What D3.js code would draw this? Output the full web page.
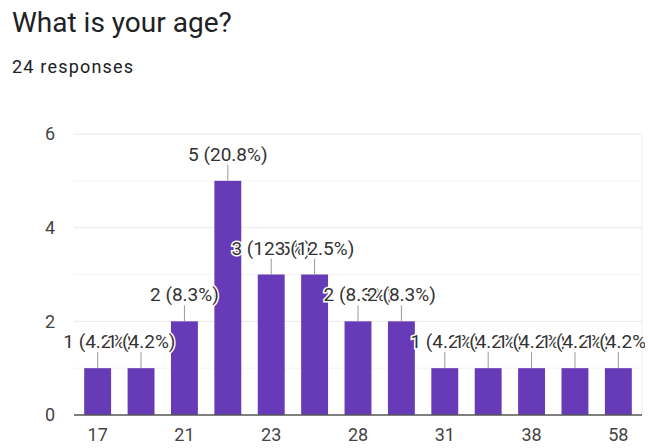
<!DOCTYPE html>
<html>
  <head>
    <title>What is your age?</title>
    <script src="https://cdnjs.cloudflare.com/ajax/libs/d3/7.8.5/d3.min.js"></script>
  <style>
body
{
  margin: 0;
  background: #fff;
  font-family: Roboto, "Noto Sans", sans-serif;
}

text.title
{
  font-size: 28px;
  fill: #202124;
}

text.sub
{
  font-size: 18px;
  letter-spacing: 1.2px;
  fill: #202124;
}

.axis text
{
  font-size: 18px;
  fill: #444;
  font-family: Roboto, sans-serif;
}

text.note
{
  font-size: 19px;
  fill: #333;
  stroke: #fff;
  stroke-width: 3px;
  paint-order: stroke;
}
  </style>
  </head>
  <body>
    <div id="chart"></div>
<script>
var ages = ["17", "20", "21", "22", "23", "25", "28", "30", "31", "35", "38", "40", "58"];
var counts = [1, 1, 2, 5, 3, 3, 2, 2, 1, 1, 1, 1, 1];
var yTicks = [0, 2, 4, 6];
var total = d3.sum(counts);

var width = 648,
  height = 448,
  plotLeft = 74,
  plotRight = 642,
  plotTop = 134,
  plotBottom = 415;

var svg = d3.select("#chart").append("svg")
  .attr("width", width)
  .attr("height", height);

svg.append("defs").append("clipPath")
  .attr("id", "noteclip")
  .append("rect")
  .attr("x", 0).attr("y", 0)
  .attr("width", 645).attr("height", height);

svg.append("text").attr("class", "title")
  .attr("x", 12).attr("y", 32)
  .text("What is your age?");
svg.append("text").attr("class", "sub")
  .attr("x", 12).attr("y", 73)
  .text(total + " responses");

var x = d3.scaleBand()
  .domain(ages)
  .range([plotLeft, plotRight])
  .paddingInner(0.38)
  .paddingOuter(0.235);

var y = d3.scaleLinear()
  .domain([0, 6])
  .range([plotBottom, plotTop]);

// light grid, one line per unit
svg.append("g")
  .selectAll("line")
  .data(d3.range(1, 7))
  .enter().append("line")
  .attr("x1", plotLeft).attr("x2", plotRight)
  .attr("y1", function(d) { return y(d); })
  .attr("y2", function(d) { return y(d); })
  .style("stroke", function(d) { return d % 2 ? "#f3f3f3" : "#e8e8e8"; })
  .style("stroke-width", 1);

svg.append("line")
  .attr("x1", plotRight).attr("x2", plotRight)
  .attr("y1", plotTop).attr("y2", plotBottom)
  .style("stroke", "#eeeeee");

var yAxis = svg.append("g")
  .attr("class", "axis")
  .attr("transform", "translate(" + plotLeft + ",0)")
  .call(d3.axisLeft(y).tickValues(yTicks).tickFormat(d3.format("d"))
    .tickSize(0).tickPadding(19));
yAxis.select(".domain").remove();

svg.append("g")
  .selectAll("rect")
  .data(counts)
  .enter().append("rect")
  .attr("x", function(d, i) { return x(ages[i]); })
  .attr("width", x.bandwidth())
  .attr("y", function(d) { return y(d); })
  .attr("height", function(d) { return y(0) - y(d); })
  .style("fill", "#673ab7");

var xAxis = svg.append("g")
  .attr("class", "axis")
  .attr("transform", "translate(0," + plotBottom + ")")
  .call(d3.axisBottom(x)
    .tickValues(ages.filter(function(d, i) { return i % 2 == 0; }))
    .tickSize(0).tickPadding(13));
xAxis.select(".domain")
  .attr("d", "M" + plotLeft + ",0H" + plotRight)
  .style("stroke", "#555")
  .style("stroke-width", 1.5);

// annotations with leader lines
var notes = svg.append("g")
  .attr("clip-path", "url(#noteclip)")
  .selectAll("g")
  .data(counts)
  .enter().append("g");

notes.append("line")
  .attr("x1", function(d, i) { return x(ages[i]) + x.bandwidth() / 2; })
  .attr("x2", function(d, i) { return x(ages[i]) + x.bandwidth() / 2; })
  .attr("y1", function(d) { return y(d) - 16; })
  .attr("y2", function(d) { return y(d); })
  .style("stroke", "#999")
  .style("stroke-width", 1);

notes.append("text")
  .attr("class", "note")
  .attr("text-anchor", "middle")
  .attr("x", function(d, i) { return x(ages[i]) + x.bandwidth() / 2; })
  .attr("y", function(d) { return y(d) - 20; })
  .text(function(d) { return d + " (" + (d / total * 100).toFixed(1) + "%)"; });
</script>
  </body>
</html>
